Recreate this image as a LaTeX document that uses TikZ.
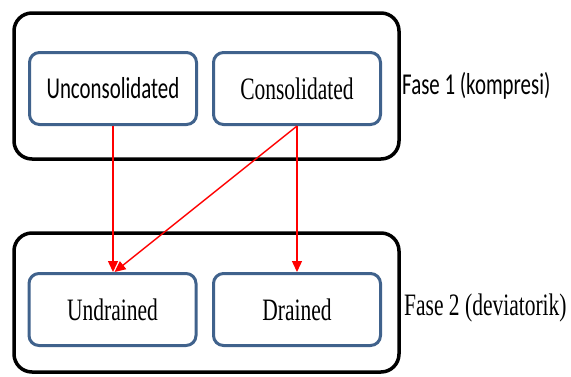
\documentclass[tikz,border=0pt]{standalone}
\usepackage{fontspec}
\usepackage{graphicx}
\setmainfont{Liberation Serif}
\newfontfamily\calfont{Carlito}
\usetikzlibrary{arrows.meta}
\definecolor{boxblue}{RGB}{64,98,140}
\newcommand{\vsc}[1]{\scalebox{1}[1.45]{#1}}
\begin{document}
\begin{tikzpicture}[x=1pt,y=-1pt,
  outerbox/.style={draw=black, line width=3.5pt, rounded corners=18pt, inner sep=0pt},
  innerbox/.style={draw=boxblue, line width=3pt, rounded corners=10pt, fill=white,
    minimum width=167pt, minimum height=72pt, inner sep=0pt},
  tnr/.style={font=\fontsize{21.5}{25}\selectfont},
  cal/.style={font=\calfont\fontsize{20.9}{25}\selectfont},
  conn/.style={draw=red, line width=1.4pt, -{Triangle[length=11pt,width=10pt]}},
  lbl/.style={anchor=west, inner sep=0pt}]
\useasboundingbox (0,0) rectangle (571,376);
\node[outerbox, minimum width=385pt, minimum height=146pt] (ph1) at (206.5,86) {};
\node[outerbox, minimum width=385pt, minimum height=139pt] (ph2) at (206.5,302.5) {};
\node[innerbox, cal] (unc) at (113,88.5) {\vsc{Unconsolidated}};
\node[innerbox, tnr] (con) at (297,88.5) {\vsc{Consolidated}};
\node[innerbox, tnr] (und) at (112.5,309.5) {\vsc{Undrained}};
\node[innerbox, tnr] (dra) at (297,309.5) {\vsc{Drained}};
\node[lbl, cal] (f1) at (402,86) {\vsc{Fase 1 (kompresi)}};
\node[lbl, tnr] (f2) at (404,308) {\vsc{Fase 2 (deviatorik)}};
\draw[conn] (unc.south) -- (unc.south |- und.north);
\draw[conn] (con.south) -- ([xshift=2pt]und.north);
\draw[conn] (con.south) -- (con.south |- dra.north);
\end{tikzpicture}
\end{document}
